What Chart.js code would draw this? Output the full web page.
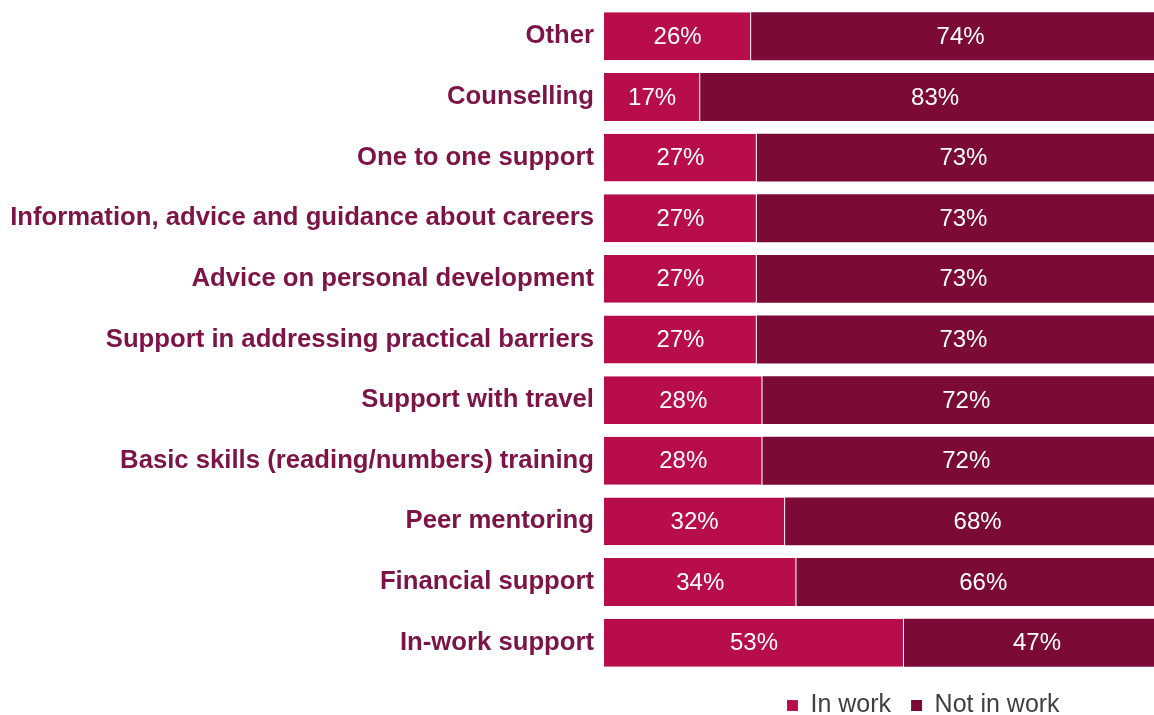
<!DOCTYPE html>
<html>
<head>
<meta charset="utf-8">
<script src="https://cdn.jsdelivr.net/npm/chart.js@4"></script>
<style>
    html, body { margin: 0; padding: 0; background: #fff; overflow: hidden; }
    #wrap { width: 1170px; height: 728px; }
</style>
</head>
<body>
<div id="wrap"><canvas id="chartApoyo" width="1170" height="728"></canvas></div>
<script>
// categorias y porcentajes por tipo de apoyo
const categorias = [
    'Other',
    'Counselling',
    'One to one support',
    'Information, advice and guidance about careers',
    'Advice on personal development',
    'Support in addressing practical barriers',
    'Support with travel',
    'Basic skills (reading/numbers) training',
    'Peer mentoring',
    'Financial support',
    'In-work support'
];
const enTrabajo = [26, 17, 27, 27, 27, 27, 28, 28, 32, 34, 53];
const sinTrabajo = [74, 83, 73, 73, 73, 73, 72, 72, 68, 66, 47];
const ticksX = [0, 100];

const fuente = 'Liberation Sans, Arial, sans-serif';

// porcentaje en blanco en el centro de cada segmento
const etiquetas = {
    id: 'etiquetas',
    afterDatasetsDraw(chart) {
        const ctx = chart.ctx;
        ctx.save();
        ctx.fillStyle = '#ffffff';
        ctx.font = '24px ' + fuente;
        ctx.textAlign = 'center';
        ctx.textBaseline = 'middle';
        chart.data.datasets.forEach((ds, i) => {
            chart.getDatasetMeta(i).data.forEach((bar, j) => {
                ctx.fillText(ds.data[j] + '%', (bar.x + bar.base) / 2, bar.y + 1);
            });
        });
        ctx.restore();
    }
};

// mueve la leyenda hacia la derecha, bajo las barras
const leyendaDesplazada = {
    id: 'leyendaDesplazada',
    afterLayout(chart) {
        const lg = chart.legend;
        const dx = 787 - (lg.left + lg.options.labels.padding);
        lg.left += dx;
        lg.right += dx;
    }
};

new Chart(document.getElementById('chartApoyo'), {
    type: 'bar',
    data: {
        labels: categorias,
        datasets: [{
            label: 'In work',
            data: enTrabajo,
            backgroundColor: '#b70e4b',
            borderColor: 'rgba(255,255,255,0.45)',
            borderWidth: { top: 0, right: 1, bottom: 0, left: 0 },
            borderSkipped: false
        }, {
            label: 'Not in work',
            data: sinTrabajo,
            backgroundColor: '#7b0a37',
            borderWidth: 0
        }]
    },
    options: {
        indexAxis: 'y',
        responsive: false,
        animation: false,
        categoryPercentage: 0.79,
        barPercentage: 1,
        layout: { padding: { top: 6, right: 0, left: 0, bottom: 0 } },
        scales: {
            x: {
                stacked: true,
                display: false,
                min: ticksX[0],
                max: ticksX[1]
            },
            y: {
                stacked: true,
                grid: { display: false, drawTicks: false },
                border: { display: false },
                ticks: {
                    padding: 10,
                    color: '#7d1447',
                    font: { family: fuente, size: 25.7, weight: 'bold' }
                },
                afterFit(scale) {
                    scale.width = 604;
                    scale.paddingTop = 0;
                    scale.paddingBottom = 0;
                }
            }
        },
        plugins: {
            legend: {
                position: 'bottom',
                align: 'start',
                labels: {
                    boxWidth: 11,
                    boxHeight: 11,
                    padding: 20,
                    color: '#404040',
                    font: { family: fuente, size: 25 }
                }
            },
            tooltip: { enabled: false }
        }
    },
    plugins: [etiquetas, leyendaDesplazada]
});
</script>
</body>
</html>
